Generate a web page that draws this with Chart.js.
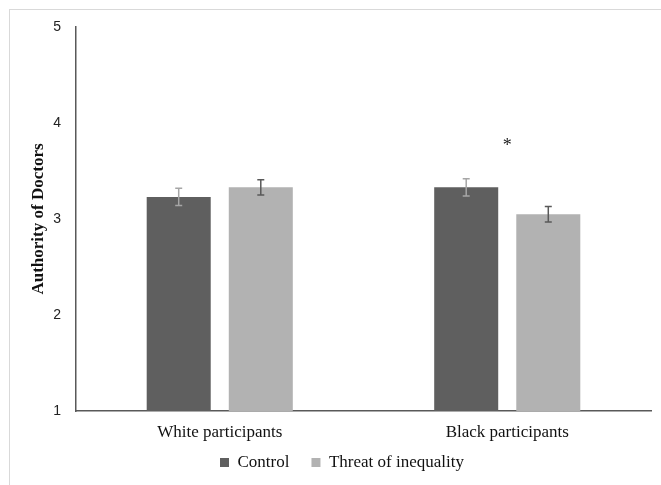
<!DOCTYPE html>
<html>
<head>
<meta charset="utf-8">
<script src="https://cdn.jsdelivr.net/npm/chart.js@4.4.1/dist/chart.umd.min.js"></script>
<style>
  html, body { margin: 0; padding: 0; background: #fff; }
  #wrap { position: relative; width: 661px; height: 485px; }
  #frame { position: absolute; left: 9px; top: 9px; right: 0; bottom: 0;
           border-top: 1px solid #d9d9d9; border-left: 1px solid #d9d9d9; pointer-events: none; }
</style>
</head>
<body>
<div id="wrap">
  <canvas id="chart" width="661" height="485"></canvas>
  <div id="frame"></div>
</div>
<script>
// Donnees
const categories = ['White participants', 'Black participants']
const controlValues = [3.23, 3.33]
const threatValues = [3.33, 3.05]
const controlErrors = [0.09, 0.09]
const threatErrors = [0.08, 0.08]
const significance = ['', '*']
const significanceY = [null, 3.79]
const yTicks = [1, 2, 3, 4, 5]

const DARK = '#5f5f5f'
const LIGHT = '#b2b2b2'
const SERIF = '"Liberation Serif", "Times New Roman", serif'

// Hauteurs fixes pour caler la zone de trace
const X_AXIS_HEIGHT = 21
const LEGEND_HEIGHT = 53

// Forcer la hauteur de la legende
const fixLegend = {
    id: 'fixLegend',
    beforeLayout(chart) {
        const lg = chart.legend
        if (lg && !lg._fixed) {
            const fit = lg.fit.bind(lg)
            lg.fit = function () { fit(); this.height = LEGEND_HEIGHT }
            lg._fixed = true
        }
    }
}

// Barres d'erreur + asterisque, dessines via les echelles
const errorBars = {
    id: 'errorBars',
    afterDatasetsDraw(chart) {
        const ctx = chart.ctx
        const y = chart.scales.y
        const x = chart.scales.x
        chart.data.datasets.forEach((ds, di) => {
            const meta = chart.getDatasetMeta(di)
            meta.data.forEach((bar, i) => {
                const v = ds.data[i]
                const e = ds.errors[i]
                const top = y.getPixelForValue(v + e)
                const bot = y.getPixelForValue(v - e)
                ctx.save()
                ctx.strokeStyle = ds.errorColor
                ctx.lineWidth = 1.5
                ctx.beginPath()
                ctx.moveTo(bar.x, top); ctx.lineTo(bar.x, bot)
                ctx.moveTo(bar.x - 3.5, top); ctx.lineTo(bar.x + 3.5, top)
                ctx.moveTo(bar.x - 3.5, bot); ctx.lineTo(bar.x + 3.5, bot)
                ctx.stroke()
                ctx.restore()
            })
        })
        significance.forEach((s, i) => {
            if (!s) return
            ctx.save()
            ctx.fillStyle = '#222'
            ctx.font = '18px ' + SERIF
            ctx.textAlign = 'center'
            ctx.textBaseline = 'middle'
            ctx.fillText(s, x.getPixelForValue(i), y.getPixelForValue(significanceY[i]) + 3)
            ctx.restore()
        })
    }
}

new Chart(document.getElementById('chart'), {
    type: 'bar',
    data: {
        labels: categories,
        datasets: [
            { label: 'Control', data: controlValues, errors: controlErrors, errorColor: '#a6a6a6',
              backgroundColor: DARK, categoryPercentage: 0.571, barPercentage: 0.78 },
            { label: 'Threat of inequality', data: threatValues, errors: threatErrors, errorColor: '#595959',
              backgroundColor: LIGHT, categoryPercentage: 0.571, barPercentage: 0.78 }
        ]
    },
    options: {
        responsive: false,
        animation: false,
        layout: { padding: { left: 33, right: 10, top: 27, bottom: 0 } },
        plugins: {
            tooltip: { enabled: false },
            legend: {
                position: 'bottom',
                labels: {
                    boxWidth: 9,
                    boxHeight: 9,
                    padding: 22,
                    color: '#111',
                    font: { family: SERIF, size: 17 }
                }
            }
        },
        scales: {
            x: {
                grid: { display: false, drawTicks: false },
                border: { color: '#595959', width: 1.5 },
                ticks: { padding: 11, color: '#111', font: { family: SERIF, size: 17 } },
                afterFit(scale) {
                    scale.height = X_AXIS_HEIGHT
                    // ne pas rogner les etiquettes a la hauteur forcee
                    scale._computeLabelArea = () => undefined
                }
            },
            y: {
                min: 1,
                max: 5,
                afterBuildTicks(scale) { scale.ticks = yTicks.map(v => ({ value: v })) },
                grid: { display: false, drawTicks: true, tickLength: 5, tickColor: '#595959' },
                border: { color: '#595959', width: 1.5 },
                ticks: { padding: 10, color: '#222', font: { family: '"Liberation Sans", sans-serif', size: 14 } },
                title: {
                    display: true,
                    text: 'Authority of Doctors',
                    color: '#111',
                    padding: { top: 0, bottom: 0 },
                    font: { family: SERIF, size: 17, weight: 'bold', lineHeight: 0.7 }
                },
                afterFit(scale) { scale.width = 43 }
            }
        }
    },
    plugins: [fixLegend, errorBars]
})
</script>
</body>
</html>
